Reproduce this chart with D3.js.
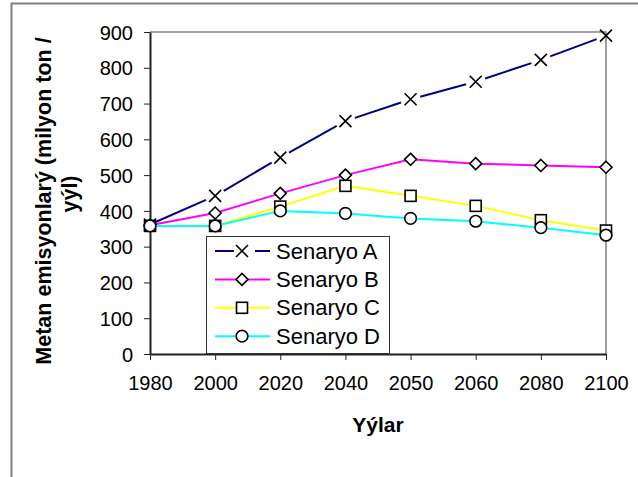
<!DOCTYPE html>
<html>
<head>
<meta charset="utf-8">
<script src="https://cdn.jsdelivr.net/npm/d3@7"></script>
<style>
  html, body { margin: 0; padding: 0; background: #fff; }
  svg { display: block; font-family: "Liberation Sans", Arial, sans-serif; }
</style>
</head>
<body>
<svg id="chart" width="638" height="477"></svg>
<script>
// Years on the category axis
const years = ["1980", "2000", "2020", "2040", "2050", "2060", "2080", "2100"];
// Methane emissions per scenario (million tons / year)
const senaryoA = [362, 442, 549, 651, 712, 761, 822, 890];
const senaryoB = [360, 394, 449, 500, 544, 532, 527, 522];
const senaryoC = [358, 358, 412, 470, 442, 414, 374, 345];
const senaryoD = [358, 358, 400, 393, 379, 371, 353, 332];
const seriesNames = ["Senaryo A", "Senaryo B", "Senaryo C", "Senaryo D"];
const yTicks = [0, 100, 200, 300, 400, 500, 600, 700, 800, 900];

const seriesValues = [senaryoA, senaryoB, senaryoC, senaryoD];
const colors = ["#000080", "#ff00ff", "#ffff00", "#00ffff"];
const markers = ["cross", "diamond", "square", "circle"];

const svg = d3.select("#chart");
const W = 638, H = 477;
const plot = { left: 150, right: 606, top: 32, bottom: 354 };

svg.append("rect").attr("width", W).attr("height", H).attr("fill", "#fff");
// chart area frame
svg.append("rect")
  .attr("x", 11.5).attr("y", 3.5).attr("width", 700).attr("height", 600)
  .attr("fill", "none").attr("stroke", "#808080").attr("stroke-width", 2);

const x = d3.scalePoint().domain(years).range([plot.left, plot.right]);
const y = d3.scaleLinear().domain([0, 900]).range([plot.bottom, plot.top]);

// plot area border (top and right)
svg.append("path")
  .attr("d", `M${plot.left},${plot.top}H${plot.right}V${plot.bottom}`)
  .attr("fill", "none").attr("stroke", "#808080").attr("stroke-width", 1.5);

// Y axis
const yAxis = svg.append("g")
  .attr("transform", `translate(${plot.left},0)`)
  .call(d3.axisLeft(y).tickValues(yTicks).tickSize(6).tickSizeOuter(0).tickPadding(11));
yAxis.select(".domain").attr("stroke", "#222").attr("stroke-width", 2);
yAxis.selectAll(".tick line").attr("stroke", "#222").attr("stroke-width", 1);
yAxis.selectAll(".tick text")
  .attr("font-size", 20).attr("fill", "#000")
  .attr("font-family", "Liberation Sans, Arial, sans-serif")
  .attr("dy", "0.36em");

// X axis
const xAxis = svg.append("g")
  .attr("transform", `translate(0,${plot.bottom})`)
  .call(d3.axisBottom(x).tickSize(6).tickSizeOuter(0).tickPadding(16));
xAxis.select(".domain").attr("stroke", "#222").attr("stroke-width", 2);
xAxis.selectAll(".tick line").attr("stroke", "#222").attr("stroke-width", 1);
xAxis.selectAll(".tick text")
  .attr("font-size", 20).attr("fill", "#000")
  .attr("font-family", "Liberation Sans, Arial, sans-serif")
  .attr("dy", "0.71em");

// Axis titles
svg.append("text")
  .attr("x", (plot.left + plot.right) / 2).attr("y", 432)
  .attr("text-anchor", "middle").attr("font-size", 21).attr("font-weight", "bold")
  .text("Yýlar");

const yTitle = svg.append("text")
  .attr("transform", "rotate(-90)")
  .attr("text-anchor", "middle").attr("font-size", 21.5).attr("font-weight", "bold");
yTitle.append("tspan").attr("x", -201).attr("y", 51).text("Metan emisyonlarý (milyon ton /");
yTitle.append("tspan").attr("x", -194).attr("y", 77).text("yýl)");

// Marker drawing
function drawMarker(g, type, cx, cy) {
  const r = 6;
  if (type === "cross") {
    g.append("path")
      .attr("d", `M${cx - r},${cy - r}L${cx + r},${cy + r}M${cx - r},${cy + r}L${cx + r},${cy - r}`)
      .attr("stroke", "#000").attr("stroke-width", 1.6).attr("fill", "none");
  } else if (type === "diamond") {
    g.append("path")
      .attr("d", `M${cx},${cy - r}L${cx + r},${cy}L${cx},${cy + r}L${cx - r},${cy}Z`)
      .attr("stroke", "#000").attr("stroke-width", 1.6).attr("fill", "#fff");
  } else if (type === "square") {
    g.append("rect")
      .attr("x", cx - 5.5).attr("y", cy - 5.5).attr("width", 11).attr("height", 11)
      .attr("stroke", "#000").attr("stroke-width", 1.6).attr("fill", "#fff");
  } else {
    g.append("circle")
      .attr("cx", cx).attr("cy", cy).attr("r", 5.8)
      .attr("stroke", "#000").attr("stroke-width", 1.6).attr("fill", "#fff");
  }
}

// Series
seriesValues.forEach((vals, si) => {
  const g = svg.append("g");
  const pts = vals.map((v, i) => [x(years[i]), y(v)]);
  if (si === 0) {
    // dashed style: segments broken around each marker
    const gap = 10;
    for (let i = 0; i < pts.length - 1; i++) {
      const [x0, y0] = pts[i], [x1, y1] = pts[i + 1];
      const len = Math.hypot(x1 - x0, y1 - y0);
      const ux = (x1 - x0) / len, uy = (y1 - y0) / len;
      const g0 = i === 0 ? 3 : gap;
      g.append("line")
        .attr("x1", x0 + ux * g0).attr("y1", y0 + uy * g0)
        .attr("x2", x1 - ux * gap).attr("y2", y1 - uy * gap)
        .attr("stroke", colors[si]).attr("stroke-width", 2);
    }
  } else {
    g.append("path")
      .attr("d", d3.line()(pts))
      .attr("fill", "none").attr("stroke", colors[si]).attr("stroke-width", 2);
  }
  pts.forEach(p => drawMarker(g, markers[si], p[0], p[1]));
});

// Legend
const legend = svg.append("g");
legend.append("rect")
  .attr("x", 206.5).attr("y", 236.5).attr("width", 183).attr("height", 117)
  .attr("fill", "#fff").attr("stroke", "#333").attr("stroke-width", 1);
seriesNames.forEach((name, i) => {
  const cy = 251 + i * 28.4;
  const lg = legend.append("g");
  if (i === 0) {
    lg.append("line").attr("x1", 215).attr("x2", 234).attr("y1", cy).attr("y2", cy)
      .attr("stroke", colors[i]).attr("stroke-width", 2);
    lg.append("line").attr("x1", 255).attr("x2", 270).attr("y1", cy).attr("y2", cy)
      .attr("stroke", colors[i]).attr("stroke-width", 2);
  } else {
    lg.append("line").attr("x1", 215).attr("x2", 270).attr("y1", cy).attr("y2", cy)
      .attr("stroke", colors[i]).attr("stroke-width", 2);
  }
  drawMarker(lg, markers[i], 242, cy);
  lg.append("text").attr("x", 276).attr("y", cy + 7.5)
    .attr("font-size", 22).attr("fill", "#000").text(name);
});
</script>
</body>
</html>
